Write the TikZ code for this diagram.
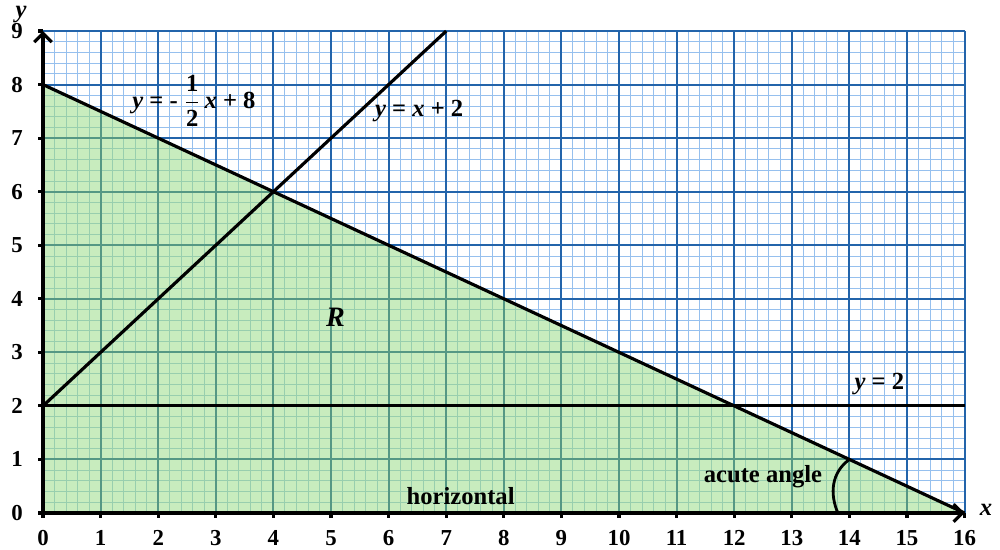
\documentclass[tikz,border=0pt]{standalone}
\usepackage{amsmath}
\usepackage{fontspec}
\setmainfont{Liberation Serif}
\usetikzlibrary{arrows.meta}
\definecolor{majb}{RGB}{35,100,170}
\definecolor{minb}{RGB}{150,192,238}
\definecolor{gfill}{RGB}{200,236,190}
\definecolor{majg}{RGB}{85,152,132}
\definecolor{ming}{RGB}{152,206,174}
\tikzset{
  minorline/.style={line width=0.5pt},
  majorline/.style={line width=1.1pt},
  graphline/.style={line width=1.8pt, black},
  ticklab/.style={font=\fontsize{13}{14}\selectfont\bfseries, inner sep=0pt},
  eqlab/.style={font=\fontsize{14}{15}\selectfont\bfseries, inner sep=0pt},
  axarrow/.style={line width=1.8pt, -{Straight Barb[length=5pt,width=10pt,line width=1.8pt]}}
}
\begin{document}
\begin{tikzpicture}[x=1.152cm,y=1.071cm]
\useasboundingbox (-0.747,-0.691) rectangle (16.615,9.58);
% blue grid
\foreach \i in {0,...,80} \draw[minb,minorline] (\i/5,0) -- (\i/5,9);
\foreach \j in {0,...,45} \draw[minb,minorline] (0,\j/5) -- (16,\j/5);
\foreach \i in {0,...,16} \draw[majb,majorline] (\i,0) -- (\i,9);
\foreach \j in {0,...,9} \draw[majb,majorline] (0,\j) -- (16,\j);
% green region
\coordinate (O) at (0,0);
\coordinate (A) at (0,8);
\coordinate (B) at (16,0);
\begin{scope}
\clip (O) -- (B) -- (A) -- cycle;
\fill[gfill] (O) -- (B) -- (A) -- cycle;
\foreach \i in {0,...,80} \draw[ming,minorline] (\i/5,0) -- (\i/5,9);
\foreach \j in {0,...,45} \draw[ming,minorline] (0,\j/5) -- (16,\j/5);
\foreach \i in {0,...,16} \draw[majg,majorline] (\i,0) -- (\i,9);
\foreach \j in {0,...,9} \draw[majg,majorline] (0,\j) -- (16,\j);
\end{scope}
% ticks and labels
\foreach \i in {0,...,16} {
  \draw[line width=1.8pt] (\i,0) -- (\i,-0.09);
  \node[ticklab] (xl\i) at (\i,-0.47) {\i};
}
\foreach \j in {0,...,9} {
  \draw[line width=1.8pt] (0,\j) -- (-0.08,\j);
  \node[ticklab] (yl\j) at (-0.45,\j) {\j};
}
% axes
\coordinate (Ytop) at (0,9);
\draw[axarrow] (O) -- (Ytop);
\draw[axarrow] (O) -- (B);
\node[eqlab, font=\fontsize{14}{15}\selectfont\bfseries\itshape] (ylab) at (-0.38,9.3) {y};
\node[eqlab, font=\fontsize{14}{15}\selectfont\bfseries\itshape] (xlab) at (16.37,0.05) {x};
% lines
\coordinate (C) at (0,2);
\coordinate (D) at (7,9);
\coordinate (E) at (16,2);
\draw[graphline] (C) -- (D);
\draw[graphline] (A) -- (B);
\draw[graphline] (C) -- (E);
% angle mark
\coordinate (P) at (13.80,0);
\coordinate (Q) at (14,1);
\draw[line width=1.6pt] (P) .. controls (13.66,0.35) and (13.68,0.75) .. (Q);
% labels
\node[eqlab] (l1) at (2.62,7.7) {\textit{y} = - $\dfrac{\text{\bfseries 1}}{\text{\bfseries 2}}$\,\textit{x} + 8};
\node[eqlab] (l2) at (6.53,7.5) {\textit{y} = \textit{x} + 2};
\node[eqlab, font=\fontsize{16}{17}\selectfont\bfseries\itshape] (R) at (5.08,3.65) {R};
\node[eqlab] (l3) at (14.52,2.4) {\textit{y} = 2};
\node[eqlab] (hz) at (7.25,0.32) {horizontal};
\node[eqlab] (ac) at (12.5,0.68) {acute angle};
\end{tikzpicture}
\end{document}
